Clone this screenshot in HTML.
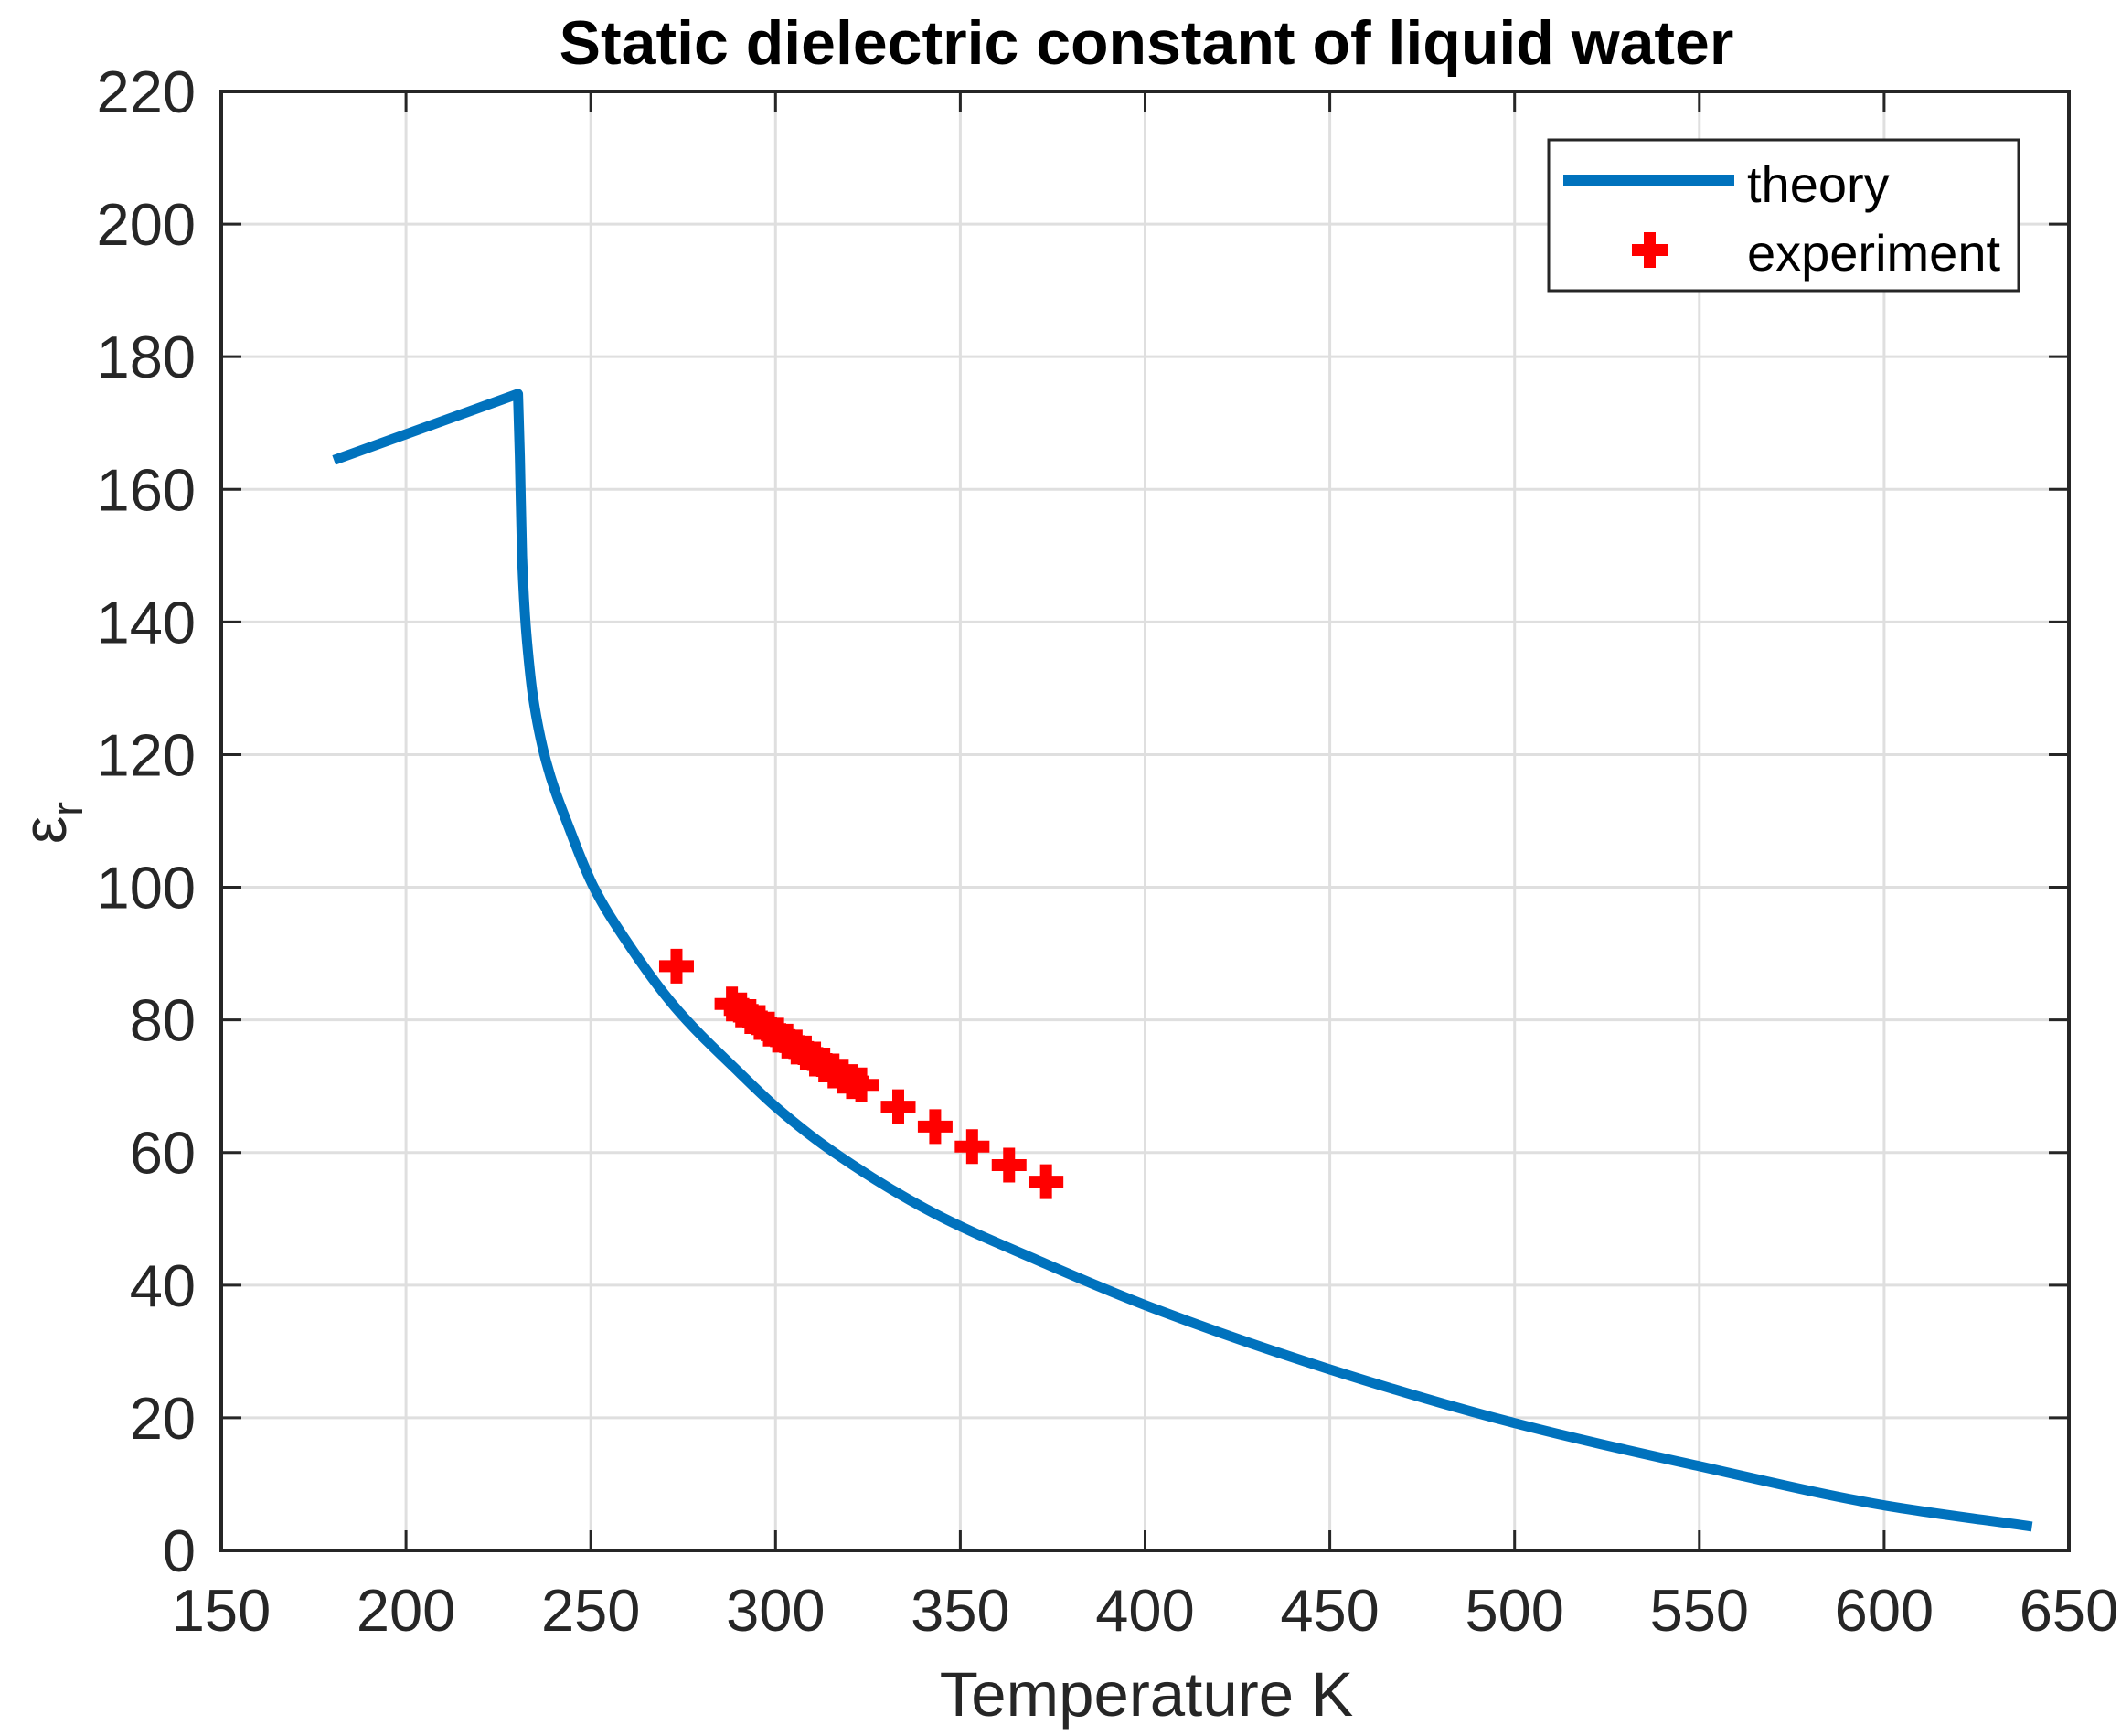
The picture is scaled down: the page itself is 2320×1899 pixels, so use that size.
<!DOCTYPE html>
<html><head><meta charset="utf-8"><style>
html,body{margin:0;padding:0;background:#fff}
svg{display:block}
text{font-family:"Liberation Sans",Arial,sans-serif;fill:#262626}
</style></head><body>
<svg id="chart" width="2320" height="1899" viewBox="0 0 2320 1899" xmlns="http://www.w3.org/2000/svg">
<rect width="2320" height="1899" fill="#fff"/>
<g id="grid"></g>
<g id="series"></g>
<g id="axes"></g>
<text x="1254" y="70" text-anchor="middle" font-size="68" font-weight="bold" style="fill:#000">Static dielectric constant of liquid water</text>
<text x="1254" y="1877" text-anchor="middle" font-size="69">Temperature K</text>
<text transform="translate(72,900) rotate(-90)" text-anchor="middle" font-size="68">ε<tspan font-size="48" dy="18">r</tspan></text>
<g>
<rect x="1694" y="153" width="514" height="165" fill="#fff" stroke="#262626" stroke-width="3"/>
<line x1="1710" y1="197" x2="1897" y2="197" stroke="#0072BD" stroke-width="12"/>
<text x="1911" y="221" font-size="56" style="fill:#000">theory</text>
<path d="M1785,267h13v-13h13v13h13v13h-13v13h-13v-13h-13z" fill="#ff0000"/>
<text x="1911" y="296" font-size="56" style="fill:#000">experiment</text>
</g>
</svg>
<script>
const xTicks = [150,200,250,300,350,400,450,500,550,600,650];
const yTicks = [0,20,40,60,80,100,120,140,160,180,200,220];
const theoryT = [180.5,230.3,230.8,231.4,232.2,233,234.3,237.9,244.1,250.8,259.5,272.7,290.3,299.8,314.6,342.7,370.3,400,450,500,550,600,640];
const theoryEps = [164.4,174.4,165,150,141,135.5,129,119,109,100,92,82,72,67,60.5,50.9,43.9,37,27.3,19.2,12.7,6.8,3.6];
const expT = [273.2,288.2,290.7,293.2,295.7,298.2,300.7,303.2,305.7,308.2,310.7,313.2,315.7,318.2,320.7,323.2,333.2,343.2,353.2,363.2,373.2];
const expEps = [88.1,82.4,81.5,80.5,79.6,78.6,77.7,76.8,75.9,75.0,74.1,73.2,72.3,71.5,70.7,70.2,66.9,63.9,60.9,58.1,55.6];

const L=242,R=2263,T=100,B=1696,NS="http://www.w3.org/2000/svg";
const xs=v=>L+(v-150)/500*(R-L);
const ys=v=>B-v/220*(B-T);
function mk(tag,attrs,parent){const e=document.createElementNS(NS,tag);for(const k in attrs)e.setAttribute(k,attrs[k]);parent.appendChild(e);return e;}
const grid=document.getElementById('grid'),axes=document.getElementById('axes'),ser=document.getElementById('series');
xTicks.forEach(v=>{
  const g=mk('line',{x1:xs(v),x2:xs(v),y1:T,y2:B,stroke:'#dfdfdf','stroke-width':3},grid);
  
  
  [[B,B-22],[T,T+22]].forEach(p=>{const t=mk('line',{x1:xs(v),x2:xs(v),y1:p[0],y2:p[1],stroke:'#262626','stroke-width':3},axes);
  
  });
  const l=mk('text',{x:xs(v),y:1784,'text-anchor':'middle','font-size':65},axes);l.textContent=v;
  
  
});
yTicks.forEach(v=>{
  const g=mk('line',{x1:L,x2:R,y1:ys(v),y2:ys(v),stroke:'#dfdfdf','stroke-width':3},grid);
  
  
  [[L,L+22],[R,R-22]].forEach(p=>{const t=mk('line',{x1:p[0],x2:p[1],y1:ys(v),y2:ys(v),stroke:'#262626','stroke-width':3},axes);
  
  });
  const l=mk('text',{x:214,y:ys(v)+23,'text-anchor':'end','font-size':65},axes);l.textContent=v;
  
  
});
const box=mk('rect',{x:L,y:T,width:R-L,height:B-T,fill:'none',stroke:'#262626','stroke-width':4},axes);


// straight segment up to the peak, then monotone cubic (Fritsch-Carlson) through the descending branch
const peak=1;
const xsD=theoryT.slice(peak),ysD=theoryEps.slice(peak),n=xsD.length;
const dk=[],m=[];
for(let i=0;i<n-1;i++)dk.push((ysD[i+1]-ysD[i])/(xsD[i+1]-xsD[i]));
m[0]=dk[0];m[n-1]=dk[n-2];
for(let i=1;i<n-1;i++){
  if(dk[i-1]*dk[i]<=0)m[i]=0;
  else{const w1=2*(xsD[i+1]-xsD[i])+(xsD[i]-xsD[i-1]),w2=(xsD[i+1]-xsD[i])+2*(xsD[i]-xsD[i-1]);m[i]=(w1+w2)/(w1/dk[i-1]+w2/dk[i]);}
}
let d='M'+xs(theoryT[0])+','+ys(theoryEps[0]);
for(let i=1;i<peak;i++)d+=' L'+xs(theoryT[i])+','+ys(theoryEps[i]);
d+=' L'+xs(xsD[0])+','+ys(ysD[0]);
for(let i=0;i<n-1;i++){
  const h=xsD[i+1]-xsD[i];
  const c1x=xsD[i]+h/3,c1y=ysD[i]+m[i]*h/3,c2x=xsD[i+1]-h/3,c2y=ysD[i+1]-m[i+1]*h/3;
  d+=` C${xs(c1x)},${ys(c1y)} ${xs(c2x)},${ys(c2y)} ${xs(xsD[i+1])},${ys(ysD[i+1])}`;
}
const path=mk('path',{d:d,fill:'none',stroke:'#0072BD','stroke-width':11,'stroke-linejoin':'round'},ser);


expT.forEach((t,i)=>{
  const cx=xs(t),cy=ys(expEps[i]);
  const mm=mk('path',{d:`M${cx-19},${cy-6.5}h12.5v-12.5h13v12.5h12.5v13h-12.5v12.5h-13v-12.5h-12.5z`,fill:'#ff0000'},ser);
  
  
});
</script>
</body></html>
